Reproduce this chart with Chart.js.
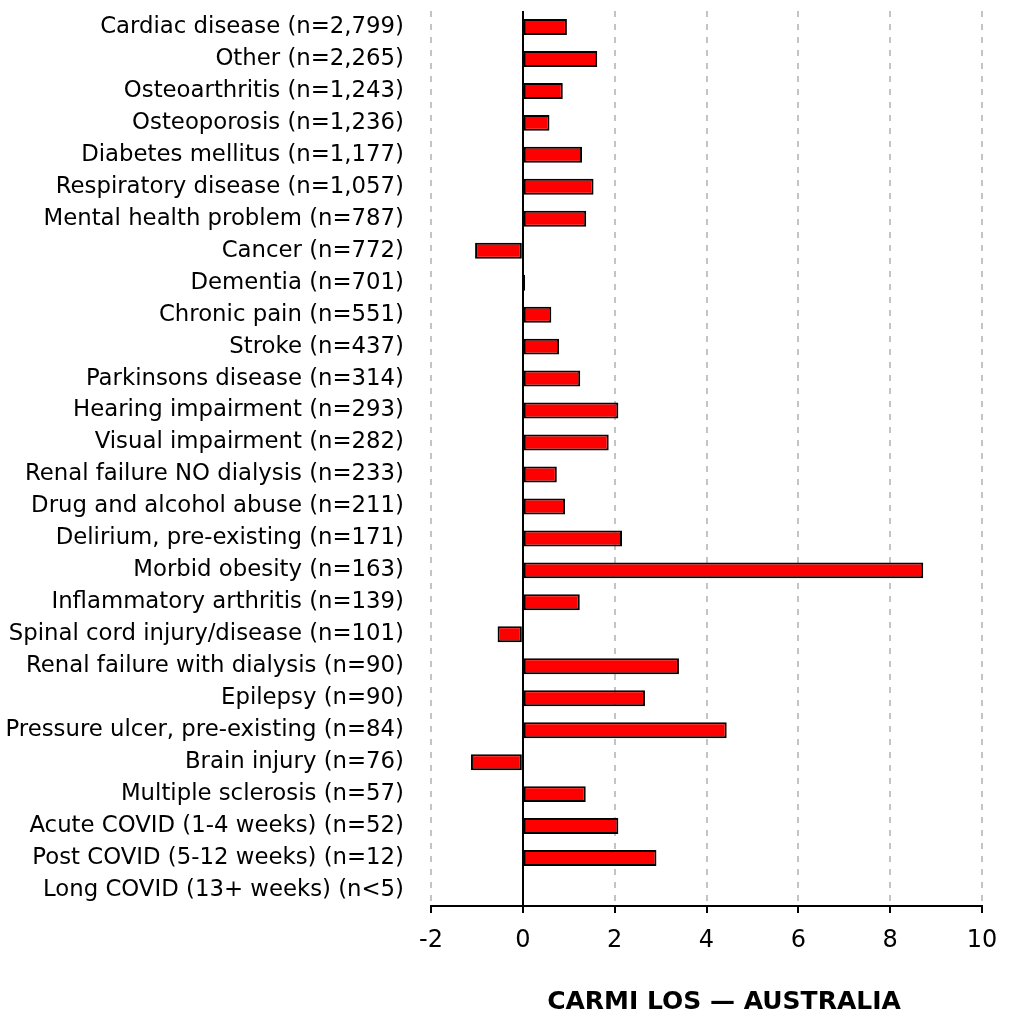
<!DOCTYPE html>
<html>
<head>
<meta charset="utf-8">
<script src="https://cdn.jsdelivr.net/npm/chart.js@4"></script>
<style>
  html, body { margin: 0; padding: 0; background: #fff; }
  .chart-container { width: 1018px; height: 1024px; }
</style>
</head>
<body>
<div class="chart-container">
  <canvas id="losChart"></canvas>
</div>
<script>
const conditions = [
  "Cardiac disease (n=2,799)",
  "Other (n=2,265)",
  "Osteoarthritis (n=1,243)",
  "Osteoporosis (n=1,236)",
  "Diabetes mellitus (n=1,177)",
  "Respiratory disease (n=1,057)",
  "Mental health problem (n=787)",
  "Cancer (n=772)",
  "Dementia (n=701)",
  "Chronic pain (n=551)",
  "Stroke (n=437)",
  "Parkinsons disease (n=314)",
  "Hearing impairment (n=293)",
  "Visual impairment (n=282)",
  "Renal failure NO dialysis (n=233)",
  "Drug and alcohol abuse (n=211)",
  "Delirium, pre-existing (n=171)",
  "Morbid obesity (n=163)",
  "Inflammatory arthritis (n=139)",
  "Spinal cord injury/disease (n=101)",
  "Renal failure with dialysis (n=90)",
  "Epilepsy (n=90)",
  "Pressure ulcer, pre-existing (n=84)",
  "Brain injury (n=76)",
  "Multiple sclerosis (n=57)",
  "Acute COVID (1-4 weeks) (n=52)",
  "Post COVID (5-12 weeks) (n=12)",
  "Long COVID (13+ weeks) (n<5)"
];

// extra length of stay (days)
const losValues = [
  0.96, 1.62, 0.87, 0.58, 1.29, 1.54, 1.38, -1.04, 0.05, 0.62,
  0.79, 1.25, 2.08, 1.87, 0.74, 0.92, 2.16, 8.72, 1.24, -0.55,
  3.40, 2.66, 4.44, -1.13, 1.37, 2.08, 2.91, null
];

const xMin = -2;
const xMax = 10;
const xStep = 2;
const chartTitle = "CARMI LOS \u2014 AUSTRALIA";

const FONT = "'DejaVu Sans', sans-serif";

// title sits under the axis, a bit right of the plot centre
const bottomTitle = {
  id: "bottomTitle",
  afterDraw(chart) {
    const c = chart.ctx;
    c.save();
    c.font = "bold 25px " + FONT;
    c.fillStyle = "#000";
    c.textAlign = "center";
    c.textBaseline = "middle";
    c.fillText(chartTitle, 724, 1002);
    c.restore();
  }
};

new Chart(document.getElementById("losChart"), {
  type: "bar",
  data: {
    labels: conditions,
    datasets: [{
      data: losValues,
      backgroundColor: "#ff0000",
      borderColor: "#000",
      borderWidth: 2,
      borderSkipped: false,
      barPercentage: 0.5,
      categoryPercentage: 1
    }]
  },
  options: {
    indexAxis: "y",
    responsive: true,
    maintainAspectRatio: false,
    animation: false,
    layout: { padding: { left: 0, right: 36, top: 11, bottom: 0 } },
    plugins: {
      legend: { display: false },
      tooltip: { enabled: false }
    },
    scales: {
      x: {
        min: xMin,
        max: xMax,
        ticks: {
          stepSize: xStep,
          color: "#000",
          padding: 13,
          font: { family: FONT, size: 24 }
        },
        grid: {
          color: ctx => (ctx.tick && ctx.tick.value === 0) ? "#000" : "#c4c4c4",
          lineWidth: 2,
          tickLength: 7,
          tickColor: "#000",
          tickWidth: 2,
          tickBorderDash: []
        },
        border: {
          display: true,
          color: "#000",
          width: 2,
          dash: ctx => (ctx.tick && ctx.tick.value === 0) ? [] : [6, 7]
        },
        afterFit: scale => {
          scale.height = 118;
          scale.paddingLeft = 0;
          scale.paddingRight = 0;
        }
      },
      y: {
        ticks: {
          autoSkip: false,
          color: "#000",
          padding: 27,
          font: { family: FONT, size: 22.8 }
        },
        grid: { display: false, drawTicks: false },
        border: { display: false },
        afterFit: scale => {
          scale.width = 431;
          scale.paddingTop = 0;
          scale.paddingBottom = 0;
        }
      }
    }
  },
  plugins: [bottomTitle]
});
</script>
</body>
</html>
